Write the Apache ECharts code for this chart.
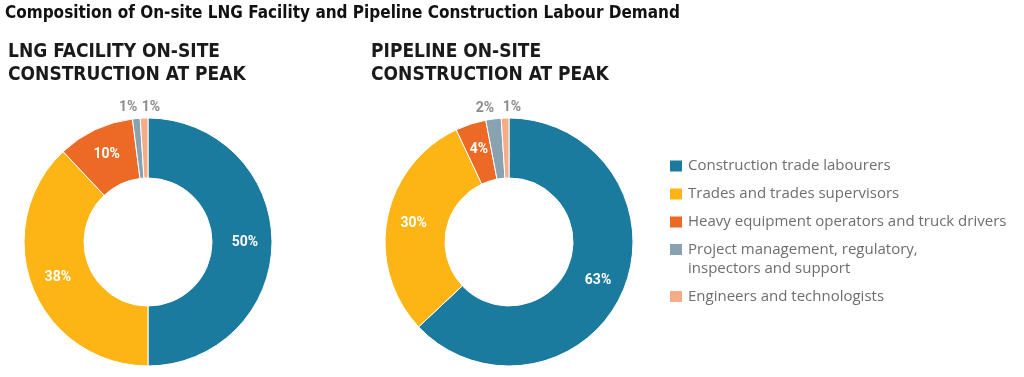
<!DOCTYPE html>
<html>
<head>
<meta charset="utf-8">
<script src="https://cdn.jsdelivr.net/npm/echarts@6/dist/echarts.min.js"></script>
<style>
  html, body { margin: 0; padding: 0; background: #fff; }
  #chart { width: 1024px; height: 377px; }
</style>
</head>
<body>
<div id="chart"></div>
<script>
const categories = [
  "Construction trade labourers",
  "Trades and trades supervisors",
  "Heavy equipment operators and truck drivers",
  "Project management, regulatory,\ninspectors and support",
  "Engineers and technologists",
];
const colors = ["#1b7b9e", "#fcb515", "#ec6a25", "#88a2b2", "#f3ac85"];
const lngValues = [50, 38, 10, 1, 1];
const pipelineValues = [63, 30, 4, 2, 1];

const condensed = '"DejaVu Sans Condensed", "DejaVu Sans", sans-serif';
const body = '"Open Sans", Roboto, sans-serif';

// tiny slices get their label outside, above the ring
function buildData(values) {
  return values.map((v, i) => {
    const item = { name: categories[i], value: v, itemStyle: { color: colors[i] } };
    if (v < 3) {
      item.label = { position: "outside", color: "#8c8c8c" };
      item.labelLine = { show: false, length: 11, length2: 0 };
    }
    return item;
  });
}

function pieSeries(values, center) {
  return {
    type: "pie",
    center: center,
    radius: [64, 124],
    startAngle: 90,
    clockwise: true,
    avoidLabelOverlap: false,
    itemStyle: { borderColor: "#fff", borderWidth: 1 },
    label: {
      position: "inside",
      formatter: "{c}%",
      color: "#fff",
      fontSize: 14,
      fontWeight: "bold",
      fontFamily: "Roboto, sans-serif",
    },
    labelLayout: (p) => {
      if (p.dataIndex === 3) return { dx: 7 };
      if (p.dataIndex === 4) return { align: "left", dx: 3 };
      return {};
    },
    emphasis: { disabled: true },
    data: buildData(values),
  };
}

const chart = echarts.init(document.getElementById("chart"));
chart.setOption({
  animation: false,
  title: [
    {
      text: "Composition of On-site LNG Facility and Pipeline Construction Labour Demand",
      left: 5,
      top: 5,
      padding: 0,
      textStyle: { fontSize: 17, fontWeight: "bold", color: "#111", fontFamily: condensed },
    },
    {
      text: "LNG FACILITY ON-SITE\nCONSTRUCTION AT PEAK",
      left: 8,
      top: 41,
      padding: 0,
      textStyle: { fontSize: 19, lineHeight: 23, fontWeight: "bold", color: "#1a1a1a", fontFamily: condensed },
    },
    {
      text: "PIPELINE ON-SITE\nCONSTRUCTION AT PEAK",
      left: 371,
      top: 41,
      padding: 0,
      textStyle: { fontSize: 19, lineHeight: 23, fontWeight: "bold", color: "#1a1a1a", fontFamily: condensed },
    },
  ],
  legend: [
    {
      orient: "vertical",
      left: 668,
      top: 157,
      padding: 0,
      icon: "rect",
      itemWidth: 14,
      itemHeight: 13,
      itemGap: 10,
      selectedMode: false,
      data: categories.slice(0, 3),
      textStyle: { fontSize: 15, lineHeight: 18, color: "#6e6e6e", fontFamily: body },
    },
    {
      orient: "vertical",
      left: 668,
      top: 221,
      padding: 0,
      icon: "rect",
      itemWidth: 14,
      itemHeight: 13,
      itemGap: 9,
      selectedMode: false,
      data: categories.slice(3),
      formatter: (name) => (name.indexOf("\n") >= 0 ? " \n" + name : name),
      textStyle: { fontSize: 15, lineHeight: 19, color: "#6e6e6e", fontFamily: body },
    },
  ],
  series: [
    pieSeries(lngValues, [148, 242]),
    pieSeries(pipelineValues, [509, 242]),
  ],
});
</script>
</body>
</html>
